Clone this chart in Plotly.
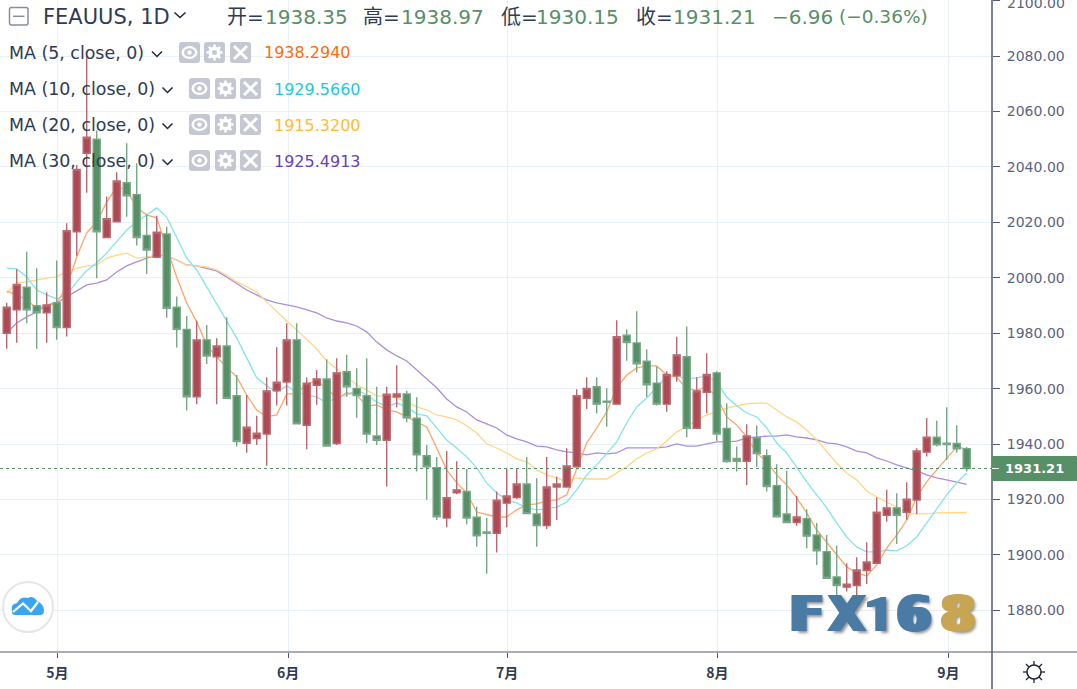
import plotly.graph_objects as go

W, H = 1077, 689
open_ = [1980.0,1988.4,1996.6,1989.9,1987.4,1991.0,1982.0,2016.6,2044.9,2050.0,2014.5,2020.2,2034.3,2030.0,2015.3,2007.4,2015.8,1989.4,1981.4,1957.1,1977.6,1971.5,1975.4,1957.5,1940.3,1942.0,1943.6,1959.2,1962.4,1977.6,1946.8,1961.2,1963.5,1940.2,1966.1,1960.1,1957.5,1942.9,1941.4,1957.0,1958.1,1949.3,1935.8,1931.5,1913.3,1922.4,1922.9,1913.6,1908.3,1907.8,1918.7,1920.7,1925.6,1914.8,1910.6,1924.5,1924.5,1931.8,1956.5,1960.7,1955.5,1954.4,1979.3,1976.5,1969.9,1962.0,1954.4,1964.6,1971.5,1945.7,1958.7,1965.7,1945.6,1934.8,1933.8,1942.3,1935.8,1925.0,1914.8,1911.7,1913.1,1907.2,1901.2,1892.1,1888.4,1889.0,1894.4,1897.0,1914.3,1917.0,1915.4,1919.8,1937.1,1942.5,1940.3,1940.2,1938.35]
high = [1991.0,2003.1,2009.4,2003.4,1994.8,2006.2,2019.7,2040.7,2079.7,2053.1,2029.3,2038.1,2048.5,2041.3,2022.9,2022.4,2018.4,1993.2,1986.2,1984.5,1983.0,1978.2,1985.8,1964.9,1957.7,1950.2,1964.1,1974.9,1983.6,1983.6,1964.0,1966.7,1970.6,1971.0,1972.2,1967.4,1971.0,1960.7,1960.7,1968.4,1959.2,1956.9,1939.7,1935.3,1937.5,1933.8,1931.0,1917.4,1913.3,1922.9,1931.0,1931.0,1935.3,1927.7,1935.3,1928.3,1938.5,1959.8,1964.1,1964.1,1960.1,1984.7,1981.4,1987.9,1974.2,1967.9,1966.3,1978.7,1982.4,1964.1,1972.8,1966.3,1954.7,1939.1,1947.2,1946.7,1938.1,1932.7,1930.4,1921.3,1916.5,1911.5,1907.2,1903.4,1897.0,1899.2,1904.6,1920.7,1923.5,1922.3,1926.2,1938.5,1949.4,1948.4,1953.3,1946.8,1938.97]
low = [1974.4,1976.6,1983.6,1974.4,1976.6,1977.6,1978.8,2007.9,2030.7,1999.8,2014.5,2019.9,2022.0,2011.6,2001.4,2007.4,1985.6,1974.8,1952.1,1954.4,1968.9,1954.4,1956.5,1939.1,1936.9,1939.7,1932.2,1953.9,1953.9,1947.3,1938.1,1954.2,1939.3,1939.7,1957.1,1949.5,1940.3,1939.7,1924.7,1953.3,1947.9,1930.1,1919.9,1912.6,1910.0,1921.9,1911.1,1903.0,1893.2,1900.9,1910.0,1920.2,1914.9,1903.0,1909.4,1912.6,1924.5,1931.8,1952.7,1951.0,1946.3,1954.4,1970.1,1965.8,1957.0,1953.9,1951.7,1962.5,1942.5,1945.7,1951.1,1941.2,1933.3,1930.1,1925.2,1931.7,1922.9,1913.8,1911.7,1910.5,1902.4,1896.4,1891.6,1885.0,1886.8,1884.4,1889.5,1897.0,1912.0,1904.0,1912.6,1914.8,1935.5,1939.1,1934.3,1936.9,1930.15]
close = [1989.4,1997.6,1988.4,1987.4,1990.2,1982.0,2017.0,2039.1,2050.7,2016.6,2021.3,2034.9,2029.6,2014.5,2010.0,2016.4,1989.0,1981.4,1957.1,1977.6,1971.8,1975.4,1956.5,1940.9,1946.1,1943.9,1959.2,1962.3,1977.6,1947.3,1962.0,1963.5,1939.3,1965.7,1960.7,1957.5,1943.6,1941.4,1958.0,1958.1,1949.5,1936.1,1931.8,1913.8,1920.7,1923.5,1913.3,1906.9,1907.8,1919.8,1921.3,1925.6,1914.9,1910.6,1924.5,1925.6,1932.1,1957.5,1960.1,1954.4,1955.1,1978.7,1976.6,1969.0,1961.4,1954.4,1965.1,1972.2,1945.7,1959.2,1965.1,1943.6,1933.7,1933.8,1942.9,1936.6,1924.7,1913.8,1911.7,1913.7,1906.8,1901.5,1891.6,1889.0,1889.5,1894.6,1897.5,1915.4,1917.0,1914.3,1920.1,1937.5,1942.5,1939.7,1939.8,1938.3,1931.21]

ma5 = [1995.2,1993.8,1992.0,1989.1,1989.8,1990.9,1996.7,2007.5,2016.2,2020.1,2027.3,2032.8,2031.7,2025.2,2022.7,2021.6,2010.8,2000.3,1990.9,1984.1,1975.8,1971.4,1967.8,1964.2,1957.7,1952.3,1949.8,1950.5,1958.1,1958.1,1961.7,1962.8,1960.3,1956.3,1958.5,1957.7,1953.8,1954.1,1952.3,1951.6,1949.8,1948.0,1946.2,1938.6,1930.7,1926.0,1922.4,1915.5,1914.5,1913.7,1913.7,1916.3,1918.1,1918.4,1919.5,1919.9,1921.7,1930.7,1940.4,1945.8,1951.6,1960.3,1964.9,1967.5,1968.2,1968.2,1964.9,1964.2,1959.9,1959.5,1960.6,1957.0,1949.8,1946.9,1942.6,1936.8,1933.6,1928.9,1925.3,1920.6,1915.2,1909.0,1904.7,1900.0,1895.7,1893.5,1892.4,1896.4,1902.5,1907.2,1912.6,1920.9,1926.4,1930.7,1935.0,1939.0,1938.29]
ma10 = [2003.5,2003.2,2000.3,1995.6,1993.8,1992.4,1993.8,1998.5,2002.5,2005.3,2008.9,2012.9,2017.2,2020.1,2022.7,2025.2,2021.9,2014.7,2007.1,2002.8,1996.7,1990.2,1984.1,1978.3,1971.1,1963.9,1961.0,1958.8,1961.0,1958.8,1957.7,1957.0,1954.8,1957.0,1957.7,1959.5,1957.7,1955.2,1953.4,1954.8,1953.4,1950.9,1950.2,1945.8,1941.5,1938.6,1935.4,1931.4,1926.0,1922.4,1919.9,1918.8,1917.0,1916.3,1916.6,1917.3,1919.1,1923.5,1928.9,1932.5,1936.8,1940.8,1947.6,1953.4,1956.6,1960.3,1964.4,1964.6,1963.5,1963.9,1964.6,1962.4,1957.0,1953.8,1951.2,1949.8,1945.8,1940.4,1936.8,1931.4,1926.4,1921.7,1917.0,1911.6,1906.5,1902.9,1901.1,1901.1,1901.8,1901.5,1903.3,1906.5,1911.6,1917.0,1921.7,1926.0,1929.57]
ma20 = [1994.5,1998.1,1998.5,1999.2,1999.9,2000.3,2002.1,2003.5,2004.3,2004.6,2007.1,2008.2,2008.9,2007.1,2007.5,2008.2,2008.2,2006.4,2004.6,2004.3,2003.9,2002.8,2001.0,1998.5,1996.7,1994.9,1991.3,1987.7,1984.4,1981.2,1977.9,1974.3,1970.0,1967.1,1963.9,1961.3,1959.5,1957.4,1957.4,1956.6,1955.2,1953.4,1952.3,1950.5,1949.8,1948.7,1946.6,1944.0,1940.1,1938.6,1936.8,1934.7,1933.6,1930.7,1928.9,1927.8,1926.4,1927.8,1927.4,1927.4,1927.4,1929.6,1931.8,1934.7,1936.8,1938.3,1941.1,1944.4,1946.2,1948.7,1950.5,1951.6,1953.0,1953.8,1954.5,1954.8,1954.8,1952.3,1949.8,1948.0,1945.1,1941.5,1937.2,1933.2,1929.6,1927.1,1923.1,1920.9,1919.1,1917.3,1914.8,1914.8,1914.8,1915.2,1915.2,1915.2,1915.32]
ma30 = [1980.1,1983.7,1985.9,1987.7,1990.2,1990.9,1993.1,1995.2,1997.4,1998.1,1999.2,2002.1,2004.3,2005.7,2007.1,2008.2,2007.9,2006.4,2004.6,2004.3,2003.5,2002.5,2000.3,1997.8,1995.6,1993.8,1992.0,1990.9,1990.2,1989.5,1988.4,1987.3,1985.5,1984.4,1983.7,1982.6,1980.5,1976.8,1974.0,1971.8,1970.0,1966.7,1963.5,1960.3,1956.3,1953.4,1951.6,1948.7,1947.3,1945.8,1943.3,1941.9,1940.8,1939.3,1939.0,1937.9,1937.2,1936.8,1936.1,1936.8,1936.5,1936.8,1938.6,1938.6,1938.6,1938.6,1939.0,1940.1,1939.3,1939.3,1940.1,1940.8,1940.8,1941.1,1942.2,1942.6,1942.9,1942.9,1943.3,1942.6,1942.2,1941.5,1940.4,1940.1,1939.0,1937.5,1936.8,1935.0,1933.9,1932.5,1931.4,1930.3,1928.9,1927.8,1927.1,1926.4,1925.49]

month_pos = [5.06, 28.15, 50.05, 71.06, 94.16]
month_labels = ["5月", "6月", "7月", "8月", "9月"]
price_ticks = [1880, 1900, 1920, 1940, 1960, 1980, 2000, 2020, 2040, 2060, 2080, 2100]
last_price = 1931.21

days = list(range(len(close)))
for s in (open_, high, low, close, ma5, ma10, ma20, ma30):
    assert len(s) == 97, len(s)

X_RANGE = [-0.67, 98.53]
Y_RANGE = [1865.0, 2100.2]
PLOT_R, PLOT_B = 992, 652

RED, GREEN = "#ad4b54", "#578f66"
DARK = "#2f3b55"
GRID = "#e9f0f6"
AXIS = "#50597c"
ICON = "#c5c8d2"
FONT = "DejaVu Sans, Noto Sans CJK SC, sans-serif"

fig = go.Figure()
for vals, col, nm in [(ma30, "#ab8fdc", "MA30"), (ma20, "#ffd684", "MA20"),
                      (ma10, "#86e3ec", "MA10"), (ma5, "#ffa468", "MA5")]:
    fig.add_trace(go.Scatter(x=days, y=vals, mode="lines", name=nm, showlegend=False,
                             hoverinfo="skip", line=dict(color=col, width=1.3)))
fig.add_trace(go.Candlestick(
    x=days, open=open_, high=high, low=low, close=close, xaxis="x2", yaxis="y2",
    showlegend=False, hoverinfo="skip", whiskerwidth=0,
    increasing=dict(fillcolor=RED, line=dict(color="#b9686f", width=1.4)),
    decreasing=dict(fillcolor=GREEN, line=dict(color="#78a686", width=1.4)),
))

def fx(x): return x / W
def fy(y): return 1 - y / H

shapes = []
def line(x0, y0, x1, y1, color, width=1, dash=None):
    shapes.append(dict(type="line", xref="paper", yref="paper", x0=fx(x0), y0=fy(y0), x1=fx(x1), y1=fy(y1),
                       line=dict(color=color, width=width, dash=dash) if dash else dict(color=color, width=width)))
def ellipse(cx, cy, rx, ry, fill, stroke=None, width=0):
    shapes.append(dict(type="circle", xref="paper", yref="paper", x0=fx(cx-rx), x1=fx(cx+rx), y0=fy(cy+ry), y1=fy(cy-ry),
                       fillcolor=fill, line=dict(color=stroke or fill, width=width)))
def path(pts_cmd, fill=None, stroke=None, width=1):
    out = []
    for c in pts_cmd:
        if isinstance(c, str):
            out.append(c)
        else:
            out.append(f"{fx(c[0]):.5f},{fy(c[1]):.5f}")
    d = dict(type="path", xref="paper", yref="paper", path=" ".join(out),
             line=dict(color=stroke or "rgba(0,0,0,0)", width=width if stroke else 0))
    if fill:
        d["fillcolor"] = fill
    shapes.append(d)
def rrect(x0, y0, x1, y1, r, fill=None, stroke=None, width=1):
    path(["M", (x0+r, y0), "L", (x1-r, y0), "Q", (x1, y0), (x1, y0+r), "L", (x1, y1-r), "Q", (x1, y1), (x1-r, y1),
          "L", (x0+r, y1), "Q", (x0, y1), (x0, y1-r), "L", (x0, y0+r), "Q", (x0, y0), (x0+r, y0), "Z"],
         fill=fill, stroke=stroke, width=width)
def chevron(cx, cy, s=5):
    path(["M", (cx-s, cy-2.5), "L", (cx, cy+2.5), "L", (cx+s, cy-2.5)], stroke="#20283c", width=1.5)

# axis frame
line(PLOT_R, 0, PLOT_R, H, AXIS, 1.5)
line(0, PLOT_B, W, PLOT_B, AXIS, 1.2)

# last price line and label
shapes.append(dict(type="line", xref="paper", yref="y", x0=0, x1=fx(PLOT_R), y0=last_price, y1=last_price,
                   line=dict(color=GREEN, width=1, dash="dot")))
rrect(992, 456, 1077, 481, 0.5, fill=GREEN)
line(992, 468.5, 999, 468.5, "#ffffff", 1)

# collapse box
rrect(9.5, 7.5, 28, 25, 2, stroke="#8b8f9c", width=1.5)
line(13, 16.3, 24.5, 16.3, "#8b8f9c", 1.5)

# legend icons
for (x0, x1, x2, yt) in [(179, 204, 230, 42), (189, 215, 240, 78), (189, 215, 240, 114), (189, 215, 240, 150)]:
    for xx in (x0, x1, x2):
        rrect(xx, yt, xx+21, yt+21, 3, fill=ICON)
    cy = yt + 10.5
    cx = x0 + 10.5
    ellipse(cx, cy, 8, 6.5, "#ffffff")
    ellipse(cx, cy, 5.5, 4.2, ICON)
    ellipse(cx, cy, 2.2, 2.2, "#ffffff")
    cx = x1 + 10.5
    ellipse(cx, cy, 6, 6, "#ffffff")
    for a, b in [(0, 8), (8, 0), (5.7, 5.7), (5.7, -5.7)]:
        line(cx-a, cy-b, cx+a, cy+b, "#ffffff", 2.5)
    ellipse(cx, cy, 2.5, 2.5, ICON)
    cx = x2 + 10.5
    line(cx-6.5, cy-6.5, cx+6.5, cy+6.5, "#ffffff", 3)
    line(cx-6.5, cy+6.5, cx+6.5, cy-6.5, "#ffffff", 3)

chevron(180, 15, 5.5)
chevron(157, 54, 5)
for yy in (90, 126, 162):
    chevron(167.5, yy, 5)

# cloud logo
ellipse(28, 607, 25, 25, "#ffffff", "#e6e6e6", 2)
path(["M", (12, 612), "Q", (10, 604), (17, 603), "Q", (21, 596), (28, 598), "Q", (33, 595), (37, 601),
      "Q", (44, 604), (44, 611), "Q", (44, 615), (40, 615), "L", (15, 615), "Q", (12, 615), (12, 612), "Z"], fill="#3aa6ef")
path(["M", (13, 612), "L", (23, 603.5), "L", (31, 611), "L", (38, 602)], stroke="#ffffff", width=2.2)

# settings sun
ellipse(1034, 672, 7, 7, "#ffffff", "#1f2433", 1.5)
for x0, y0, x1, y1 in [(1034, 661, 1034, 665), (1034, 679, 1034, 683), (1023, 672, 1027, 672), (1041, 672, 1045, 672),
                       (1026, 664, 1029, 667), (1039, 677, 1042, 680), (1026, 680, 1029, 677), (1039, 667, 1042, 664)]:
    line(x0, y0, x1, y1, "#1f2433", 1.3)

ann = []
def text(x, y, s, size, color, anchor="left", bold=False, family=FONT, shadow=None):
    f = dict(family=family, size=size, color=color)
    if shadow:
        f["shadow"] = shadow
    ann.append(dict(xref="paper", yref="paper", x=fx(x), y=fy(y), text=f"<b>{s}</b>" if bold else s, showarrow=False,
                    xanchor=anchor, yanchor="middle", font=f, borderpad=0, borderwidth=0))

text(43, 17, "FEAUUS, 1D", 21, DARK)
hd = GREEN
text(227, 17, "开=", 20, DARK)
text(265, 17, "1938.35", 20, hd)
text(363, 17, "高=", 20, DARK)
text(401, 17, "1938.97", 20, hd)
text(501, 17, "低=", 20, DARK)
text(536, 17, "1930.15", 20, hd)
text(636, 17, "收=", 20, DARK)
text(673, 17, "1931.21", 20, hd)
text(772, 17, "−6.96", 20, hd)
text(839, 17, "(−0.36%)", 18.5, hd)

for yy, lab, val, col, vx in [(53, "MA (5, close, 0)", "1938.2940", "#ff6a0d", 264),
                              (89, "MA (10, close, 0)", "1929.5660", "#22c8dc", 274),
                              (125, "MA (20, close, 0)", "1915.3200", "#ffbb33", 274),
                              (161, "MA (30, close, 0)", "1925.4913", "#6a3fb5", 274)]:
    text(9, yy, lab, 17.4, DARK)
    text(vx, yy, val, 16, col)

text(1034, 468.5, "1931.21", 13, "#ffffff", anchor="center", bold=True)
text(1006.5, 3, "2100.00", 14, "#5a6480")

# watermark letters: widened with a same-colour shadow, soft grey edge
def wide(col, n):
    parts = [f"{d}px 0 0 {col}" for d in range(-n, n + 1) if d]
    parts.append("4px 2px 3px rgba(60,60,60,0.55)")
    return ", ".join(parts)
wm = [(806, "F", "#4a7ba5", 3, FONT), (847, "X", "#4a7ba5", 2, FONT), (879, "1", "#4a7ba5", 2, "Roboto"),
      (913.5, "6", "#4a7ba5", 3, FONT), (957.5, "8", "#c8a552", 3, FONT)]
for cx, ch, col, n, fam in wm:
    text(cx, 614.5, ch, 49, col, anchor="center", bold=True, family=fam, shadow=wide(col, n))

axis_common = dict(showgrid=True, gridcolor=GRID, gridwidth=1, zeroline=False, showline=False,
                   ticks="outside", tickcolor=AXIS, tickwidth=1)
fig.update_layout(
    width=W, height=H, autosize=False,
    margin=dict(l=0, r=0, t=0, b=0, pad=0),
    paper_bgcolor="#ffffff", plot_bgcolor="#ffffff",
    showlegend=False, hovermode=False, boxgap=0.3, boxgroupgap=0,
    font=dict(family=FONT),
    xaxis=dict(domain=[0, PLOT_R/W], range=X_RANGE, tickmode="array", tickvals=month_pos, ticktext=month_labels,
               ticklen=5, ticklabelstandoff=3,
               tickfont=dict(size=14, color="#2f3b55", family="Noto Sans CJK SC, sans-serif", weight="bold"),
               rangeslider=dict(visible=False), fixedrange=True, anchor="y", **axis_common),
    yaxis=dict(domain=[1-PLOT_B/H, 1], range=Y_RANGE, tickmode="array", tickvals=price_ticks,
               ticktext=[f"{v:.2f}" if v != 2100 else "" for v in price_ticks], side="right", ticklen=7, ticklabelstandoff=4,
               tickfont=dict(size=14, color="#5a6480"), fixedrange=True, anchor="x", **axis_common),
    xaxis2=dict(domain=[0, PLOT_R/W], range=X_RANGE, overlaying="x", visible=False, anchor="y2",
                rangeslider=dict(visible=False), fixedrange=True),
    yaxis2=dict(domain=[1-PLOT_B/H, 1], range=Y_RANGE, overlaying="y", visible=False, anchor="x2", fixedrange=True),
    shapes=shapes, annotations=ann,
)
fig.write_html("out.html", config=dict(displayModeBar=False),
               post_script="document.body.style.margin='0';document.body.style.overflow='hidden';")
